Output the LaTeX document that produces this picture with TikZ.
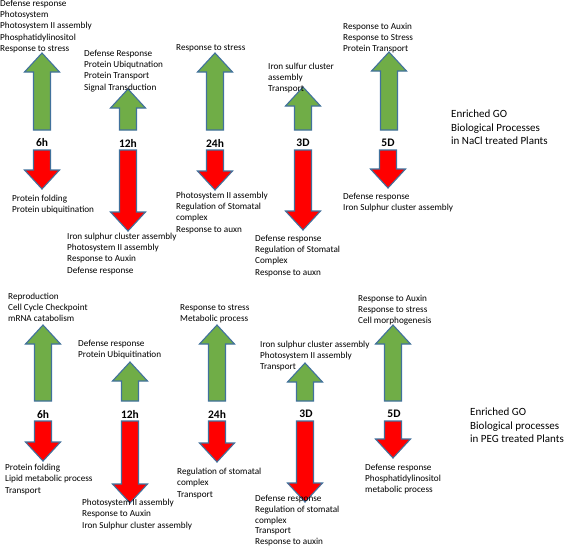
\documentclass[tikz,border=0pt]{standalone}
\usepackage{fontspec}
\setmainfont{Carlito}
\definecolor{upgreen}{HTML}{70AD47}
\definecolor{downred}{HTML}{FF0000}
\definecolor{rimblue}{HTML}{41719C}
\newcommand{\golistfont}{\fontsize{9.2}{11.2}\selectfont}
% block arrow: style, centre x, tip y, tail y
\newcommand{\blockarrow}[4]{%
  \filldraw[#1] ({#2-8.5},#4) -- ({#2-8.5},{#3+19*sign(#4-#3)}) -- ({#2-17.5},{#3+19*sign(#4-#3)})
    -- (#2,#3) -- ({#2+17.5},{#3+19*sign(#4-#3)}) -- ({#2+8.5},{#3+19*sign(#4-#3)}) -- ({#2+8.5},#4) -- cycle;}

\begin{document}
\begin{tikzpicture}[x=1pt, y=-1pt,
	golist/.style={anchor=north west, align=left, inner sep=0pt, font=\golistfont},
	gotitle/.style={anchor=north west, align=left, inner sep=0pt, font=\fontsize{11}{13.5}\selectfont},
	gotime/.style={inner sep=0pt, font=\fontsize{11.5}{13}\selectfont\bfseries},
	greenup/.style={fill=upgreen, draw=rimblue, line width=1.1pt},
	reddown/.style={fill=downred, draw=rimblue, line width=1.1pt}]
	\useasboundingbox (0,0) rectangle (567,550);
	%\draw[help lines] (0,0) grid[step=50] (567,550);

	% NaCl
	\blockarrow{greenup}{42}{53}{130}
	\blockarrow{greenup}{128}{89}{130}
	\blockarrow{greenup}{215}{53}{130}
	\blockarrow{greenup}{303}{87}{130}
	\blockarrow{greenup}{389}{52}{130}
	\blockarrow{reddown}{42}{189}{150}
	\blockarrow{reddown}{128}{231}{150}
	\blockarrow{reddown}{215}{190}{150}
	\blockarrow{reddown}{303}{230}{150}
	\blockarrow{reddown}{388}{188}{150}
	\node[gotime] (nacl6) at (42,143) {6h};
	\node[gotime] (nacl12) at (128,143) {12h};
	\node[gotime] (nacl24) at (215,143) {24h};
	\node[gotime] (nacl3d) at (303,143) {3D};
	\node[gotime] (nacl5d) at (388,143) {5D};
	\node[golist] (nacl6up) at (0,0) {Defense response\\Photosystem\\Photosystem II assembly\\Phosphatidylinositol\\Response to stress};
	\node[golist] (nacl12up) at (84,50) {Defense Response\\Protein Ubiqutnation\\Protein Transport\\Signal Transduction};
	\node[golist] (nacl24up) at (176,44) {Response to stress};
	\node[golist] (nacl3dup) at (268,63) {Iron sulfur cluster\\assembly\\Transport};
	\node[golist] (nacl5dup) at (343,23) {Response to Auxin\\Response to Stress\\Protein Transport};
	\node[golist] (nacl6dn) at (12,195) {Protein folding\\Protein ubiquitination};
	\node[golist] (nacl12dn) at (67,233) {Iron sulphur cluster assembly\\Photosystem II assembly\\Response to Auxin\\Defense response};
	\node[golist] (nacl24dn) at (176,192) {Photosystem II assembly\\Regulation of Stomatal\\complex\\Response to auxn};
	\node[golist] (nacl3ddn) at (255,235) {Defense response\\Regulation of Stomatal\\Complex\\Response to auxn};
	\node[golist] (nacl5ddn) at (343,193) {Defense response\\Iron Sulphur cluster assembly};
	\node[gotitle] (nacltitle) at (451,110) {Enriched GO\\Biological Processes\\in NaCl treated Plants};

	% PEG
	\blockarrow{greenup}{43}{325}{401}
	\blockarrow{greenup}{130}{362}{401}
	\blockarrow{greenup}{217}{325}{401}
	\blockarrow{greenup}{305}{363}{401}
	\blockarrow{greenup}{393}{325}{401}
	\blockarrow{reddown}{43}{461}{421}
	\blockarrow{reddown}{130}{503}{421}
	\blockarrow{reddown}{217}{462}{421}
	\blockarrow{reddown}{305}{502}{421}
	\blockarrow{reddown}{393}{458}{421}
	\node[gotime] (peg6) at (43,414) {6h};
	\node[gotime] (peg12) at (130,414) {12h};
	\node[gotime] (peg24) at (217,414) {24h};
	\node[gotime] (peg3d) at (306,414) {3D};
	\node[gotime] (peg5d) at (394,414) {5D};
	\node[golist] (peg6up) at (8,293) {Reproduction\\Cell Cycle Checkpoint\\mRNA catabolism};
	\node[golist] (peg12up) at (78,340) {Defense response\\Protein Ubiquitination};
	\node[golist] (peg24up) at (180,304) {Response to stress\\Metabolic process};
	\node[golist] (peg3dup) at (260,341) {Iron sulphur cluster assembly\\Photosystem II assembly\\Transport};
	\node[golist] (peg5dup) at (358,295) {Response to Auxin\\Response to stress\\Cell morphogenesis};
	\node[golist] (peg6dn) at (5,464) {Protein folding\\Lipid metabolic process\\Transport};
	\node[golist] (peg12dn) at (82,499) {Photosystem II assembly\\Response to Auxin\\Iron Sulphur cluster assembly};
	\node[golist] (peg24dn) at (177,468) {Regulation of stomatal\\complex\\Transport};
	\node[golist, font=\fontsize{9.2}{10.8}\selectfont] (peg3ddn) at (255,495) {Defense response\\Regulation of stomatal\\complex\\Transport\\Response to auxin};
	\node[golist] (peg5ddn) at (365,464) {Defense response\\Phosphatidylinositol\\metabolic process};
	\node[gotitle] (pegtitle) at (470,408) {Enriched GO\\Biological processes\\in PEG treated Plants};
\end{tikzpicture}
\end{document}
